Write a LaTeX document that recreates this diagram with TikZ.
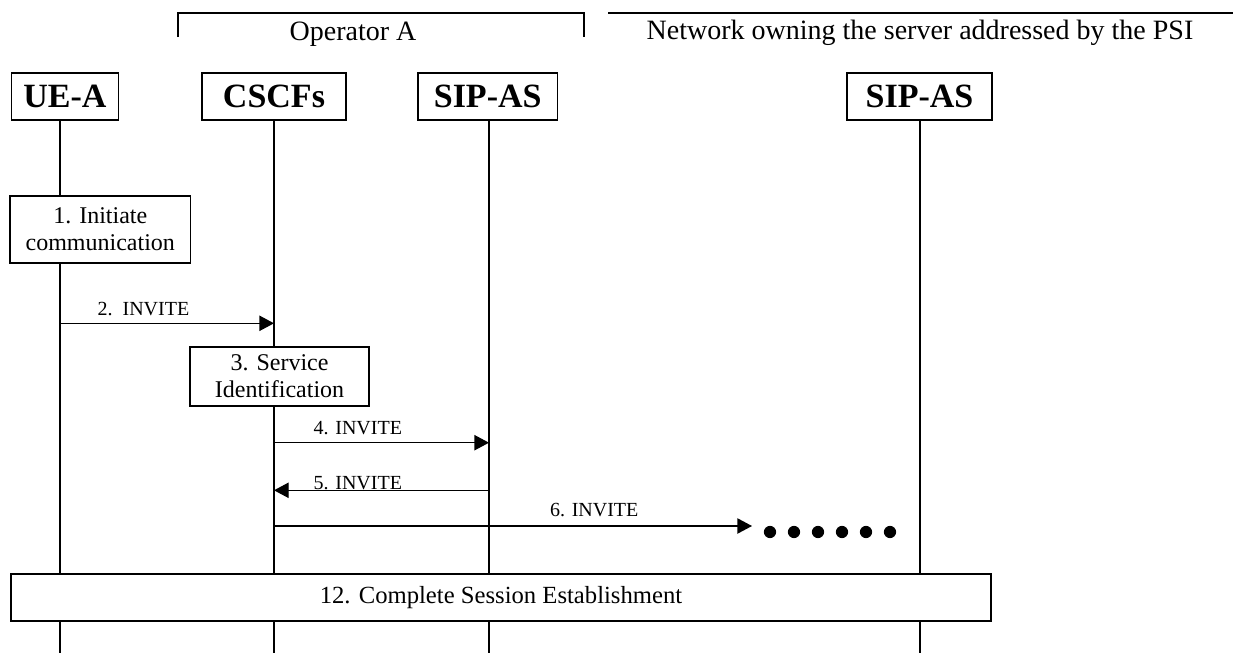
\documentclass[tikz,border=0pt]{standalone}
\usepackage{fontspec}
\setmainfont{Liberation Serif}
\usetikzlibrary{arrows.meta}

\tikzset{
  entity/.style={draw, fill=white, line width=1pt, minimum height=35.25pt,
    inner sep=0pt, font=\fontsize{25.5}{28}\selectfont\bfseries},
  stepbox/.style={draw, fill=white, line width=1pt, align=center, inner sep=1pt,
    font=\fontsize{18}{20.5}\selectfont},
  lifeline/.style={line width=0.8pt},
  msg/.style={line width=1pt, -{Triangle[length=11pt,width=11.5pt]}},
  msglabel/.style={anchor=base, inner sep=0pt, font=\fontsize{15}{17}\selectfont},
  bracketline/.style={line width=1pt},
  bracketlabel/.style={anchor=base, inner sep=0pt, font=\fontsize{21}{24}\selectfont}
}

\begin{document}
\begin{tikzpicture}[x=0.75pt, y=-0.75pt]
  \useasboundingbox (0,0) rectangle (1233,653);

  % Draw the operator brackets
  \draw[bracketline] (178,37) -- (178,13) -- (584,13) -- (584,37);
  \node[bracketlabel] (opa) at (353,40.5) {Operator A};
  \draw[bracketline] (608,13) -- (1233,13);
  \node[bracketlabel] (psinet) at (920,40) {Network owning the server addressed by the PSI};

  % Draw the entities and their lifelines
  \foreach \name/\cx/\w/\lx/\txt in {ue/65/80/60/UE-A, cscf/274/108/274/CSCFs,
      sipas/487.7/104.6/489/SIP-AS, sipasb/919.5/108.75/920/SIP-AS} {
    \node[entity, minimum width=\w pt] (\name) at (\cx,96.5) {\txt};
    \coordinate (\name-end) at (\lx,653);
    \draw[lifeline] (\name.south -| \name-end) -- (\name-end);
  }

  % Draw the steps
  \node[stepbox, minimum width=135.5pt, minimum height=50.25pt] (init) at (100.3,229.5)
    {1. Initiate\\communication};
  \node[stepbox, minimum width=134.25pt, minimum height=44.25pt] (servid) at (279.5,376.5)
    {3. Service\\Identification};
  \node[stepbox, minimum width=735pt, minimum height=35.25pt,
    font=\fontsize{18.5}{21}\selectfont] (complete) at (501,597.5)
    {12. Complete Session Establishment};

  % Define the message levels
  \coordinate (y2) at (0,323.3);
  \coordinate (y4) at (0,442.7);
  \coordinate (y5) at (0,490.3);
  \coordinate (y6) at (0,526);
  \coordinate (dotsstart) at (752,526);

  % Draw the messages
  \draw[msg] (y2 -| ue-end) -- node[msglabel, pos=0.39, yshift=6pt] {2.\ \ INVITE} (y2 -| cscf-end);
  \draw[msg] (y4 -| cscf-end) -- node[msglabel, pos=0.39, yshift=6.5pt] {4. INVITE} (y4 -| sipas-end);
  \draw[msg] (y5 -| sipas-end) -- node[msglabel, pos=0.61, yshift=0.3pt] {5. INVITE} (y5 -| cscf-end);
  \draw[msg] (y6 -| cscf-end) -- node[msglabel, pos=0.67, yshift=7.5pt] {6. INVITE} (dotsstart);

  % Draw the dots
  \foreach \i in {0,...,5} {
    \fill ({770+24*\i},532) circle (4.6pt);
  }
\end{tikzpicture}
\end{document}
